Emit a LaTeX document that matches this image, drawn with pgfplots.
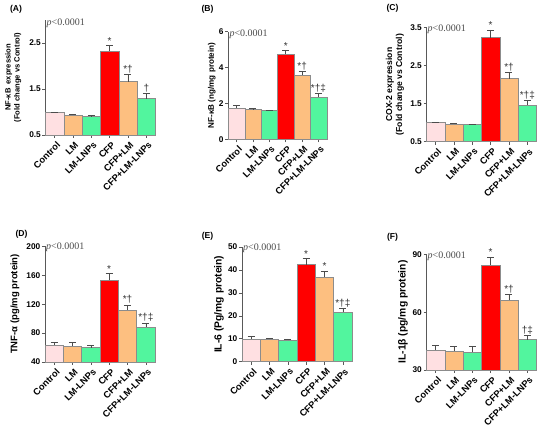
\documentclass[border=0pt]{standalone}
\usepackage{fontspec}
\setmainfont{Liberation Sans}
\newfontfamily\pserif{Liberation Serif}
\usepackage{pgfplots}
\pgfplotsset{compat=1.18}
\definecolor{cpink}{HTML}{FFE0E2}
\definecolor{corange}{HTML}{FDBF80}
\definecolor{cgreen}{HTML}{52F59E}
\definecolor{cred}{HTML}{FF0000}
\pgfplotsset{
  panel/.style={
    scale only axis, anchor=south west,
    axis lines=left, axis line style={-, draw=black!65, line width=0.6pt},
    xmin=-0.5, xmax=5.5, xtick={0,1,2,3,4,5},
    xticklabels={Control,LM,LM-LNPs,CFP,CFP+LM,CFP+LM-LNPs},
    x tick label style={rotate=45, anchor=north east, font=\bfseries\fontsize{9.3}{10}\selectfont, inner sep=1pt, yshift=-2pt},
    y tick label style={font=\bfseries\fontsize{8.3}{9}\selectfont, inner sep=1.5pt},
    tick align=outside, major tick length=3pt,
    tick style={draw=black!65, line width=0.6pt},
    /pgf/number format/assume math mode=true,
    clip=false,
  },
}
\tikzset{
  anno/.style={anchor=south, font=\fontsize{10}{10}\selectfont, text=black!80, inner sep=0.5pt},
  pval/.style={anchor=west, font=\pserif\fontsize{10}{10}\selectfont, text=black!70, inner sep=1pt},
}
\newcommand\bb[4]{\addplot[ybar, bar width=1, bar shift=0pt, fill=#1, draw=black!45, line width=0.4pt,
  error bars/.cd, y dir=plus, y explicit,
  error bar style={draw=black!70, line width=0.6pt},
  error mark options={rotate=90, mark size=3.5pt, draw=black!70, line width=0.6pt}]
  coordinates {(#2,#3) +- (0,#4)};}
\begin{document}
\begin{tikzpicture}
\useasboundingbox (0,0) rectangle (550pt,428pt);
% ---------- (A)
\begin{axis}[panel, at={(45.5pt,293pt)}, width=110pt, height=115pt,
  ymin=0.5, ymax=3, ytick={0.5,1.5,2.5}]
\bb{cpink}{0}{0.99}{0.0}
\bb{corange}{1}{0.94}{0.02}
\bb{cgreen}{2}{0.90}{0.02}
\bb{cred}{3}{2.32}{0.13}
\bb{corange}{4}{1.66}{0.15}
\bb{cgreen}{5}{1.29}{0.12}
\node[anno] at (axis cs:3,2.46) {*};
\node[anno] at (axis cs:4,1.82) {*†};
\node[anno] at (axis cs:5,1.42) {†};
\node[pval] at (axis description cs:0,0.975) {\textit{p}<0.0001};
\end{axis}
% ---------- (B)
\begin{axis}[panel, at={(228.3pt,288.7pt)}, width=98.4pt, height=107.6pt,
  ymin=0, ymax=6, ytick={0,2,4,6}]
\bb{cpink}{0}{1.73}{0.15}
\bb{corange}{1}{1.68}{0.03}
\bb{cgreen}{2}{1.61}{0.03}
\bb{cred}{3}{4.74}{0.2}
\bb{corange}{4}{3.57}{0.22}
\bb{cgreen}{5}{2.36}{0.18}
\node[anno] at (axis cs:3,4.95) {*};
\node[anno] at (axis cs:4,3.82) {*†};
\node[anno] at (axis cs:5,2.56) {*†‡};
\node[pval] at (axis description cs:0,0.975) {\textit{p}<0.0001};
\end{axis}
% ---------- (C)
\begin{axis}[panel, at={(426.5pt,286.3pt)}, width=110pt, height=114pt,
  ymin=0.5, ymax=3.5, ytick={0.5,1.5,2.5,3.5}]
\bb{cpink}{0}{1.0}{0.0}
\bb{corange}{1}{0.97}{0.02}
\bb{cgreen}{2}{0.95}{0.02}
\bb{cred}{3}{3.24}{0.2}
\bb{corange}{4}{2.16}{0.17}
\bb{cgreen}{5}{1.46}{0.13}
\node[anno] at (axis cs:3,3.46) {*};
\node[anno] at (axis cs:4,2.35) {*†};
\node[anno] at (axis cs:5,1.61) {*†‡};
\node[pval] at (axis description cs:0,0.99) {\textit{p}<0.0001};
\end{axis}
% ---------- (D)
\begin{axis}[panel, at={(45pt,66pt)}, width=110pt, height=115.7pt,
  ymin=40, ymax=200, ytick={40,80,120,160,200}]
\bb{cpink}{0}{63}{4}
\bb{corange}{1}{62}{5}
\bb{cgreen}{2}{60}{3.5}
\bb{cred}{3}{153}{9}
\bb{corange}{4}{112}{7}
\bb{cgreen}{5}{88.5}{5.5}
\node[anno] at (axis cs:3,163) {*};
\node[anno] at (axis cs:4,120) {*†};
\node[anno] at (axis cs:5,95) {*†‡};
\node[pval] at (axis description cs:0,0.99) {\textit{p}<0.0001};
\end{axis}
% ---------- (E)
\begin{axis}[panel, at={(242pt,66.3pt)}, width=110pt, height=114.7pt,
  ymin=0, ymax=50, ytick={0,10,20,30,40,50}]
\bb{cpink}{0}{10.0}{1.0}
\bb{corange}{1}{9.7}{0.6}
\bb{cgreen}{2}{9.4}{0.5}
\bb{cred}{3}{42.3}{2.7}
\bb{corange}{4}{37.0}{2.4}
\bb{cgreen}{5}{21.5}{1.8}
\node[anno] at (axis cs:3,45.3) {*};
\node[anno] at (axis cs:4,39.7) {*};
\node[anno] at (axis cs:5,23.6) {*†‡};
\node[pval] at (axis description cs:0,0.99) {\textit{p}<0.0001};
\end{axis}
% ---------- (F)
\begin{axis}[panel, at={(426.5pt,58pt)}, width=110pt, height=115.3pt,
  ymin=30, ymax=90, ytick={30,60,90}]
\bb{cpink}{0}{40.4}{2.6}
\bb{corange}{1}{39.9}{2.6}
\bb{cgreen}{2}{39.2}{3.3}
\bb{cred}{3}{84.6}{4.0}
\bb{corange}{4}{66.2}{3.2}
\bb{cgreen}{5}{45.8}{2.4}
\node[anno] at (axis cs:3,89) {*};
\node[anno] at (axis cs:4,69.7) {*†};
\node[anno] at (axis cs:5,48.5) {†‡};
\node[pval] at (axis description cs:0,0.99) {\textit{p}<0.0001};
\end{axis}
% ---------- panel letters
\begin{scope}[every node/.style={font=\bfseries\fontsize{8.6}{9}\selectfont}]
\node at (16pt,419pt) {(A)};
\node at (207.5pt,419pt) {(B)};
\node at (392.5pt,420pt) {(C)};
\node at (21.5pt,193.3pt) {(D)};
\node at (207.5pt,192pt) {(E)};
\node at (392.5pt,191pt) {(F)};
\end{scope}
% ---------- y labels
\begin{scope}[every node/.style={rotate=90, align=center}]
\node[font=\bfseries\fontsize{7.6}{9}\selectfont] at (13.3pt,350.5pt) {NF-κB\ \ expression\\(Fold change vs Control)};
\node[font=\bfseries\fontsize{8.1}{9}\selectfont] at (211.7pt,342.5pt) {NF-κB (ng/mg protein)};
\node[font=\bfseries\fontsize{8.6}{10}\selectfont] at (395pt,343.3pt) {COX-2 expression\\(Fold change vs Control)};
\node[font=\bfseries\fontsize{9.5}{10}\selectfont] at (15pt,124pt) {TNF-α (pg/mg protein)};
\node[font=\bfseries\fontsize{10.3}{11}\selectfont] at (219pt,123.7pt) {IL-6 (Pg/mg protein)};
\node[font=\bfseries\fontsize{10.3}{11}\selectfont] at (403pt,116pt) {IL-1β (pg/mg protein)};
\end{scope}
\end{tikzpicture}
\end{document}
